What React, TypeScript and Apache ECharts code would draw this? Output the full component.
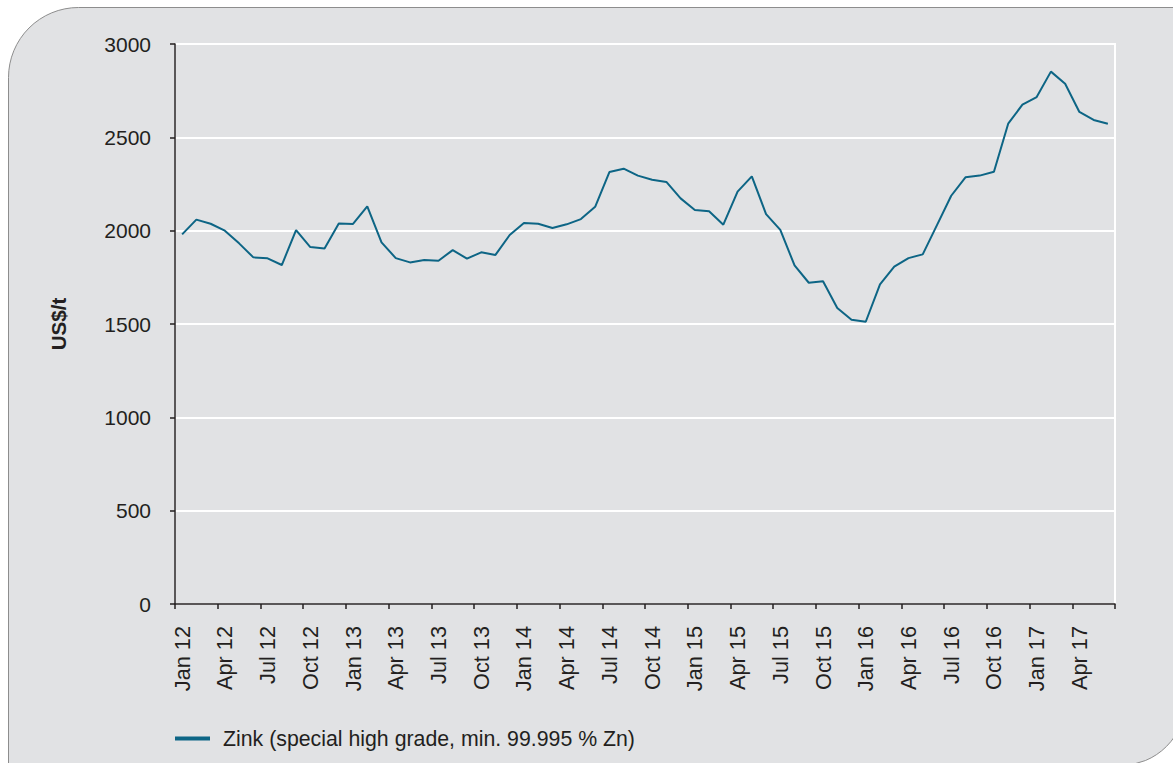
import React, { useEffect, useRef } from "react";
import * as echarts from "echarts";

const months = ["Jan", "Feb", "Mar", "Apr", "May", "Jun", "Jul", "Aug", "Sep", "Oct", "Nov", "Dec"];
const years = ["12", "13", "14", "15", "16", "17"];
const categories: string[] = [];
years.forEach((y) => months.forEach((m) => categories.push(m + " " + y)));
const cats = categories.slice(0, 66); // Jan 12 .. Jun 17

const zinc = [
  1980, 2059, 2037, 2000, 1932, 1857, 1852, 1816, 2003, 1912, 1905, 2039,
  2036, 2130, 1937, 1853, 1830, 1843, 1839, 1896, 1850, 1884, 1870, 1977,
  2041, 2037, 2014, 2034, 2062, 2128, 2314, 2332, 2295, 2273, 2261, 2173,
  2111, 2104, 2032, 2209, 2291, 2089, 2004, 1814, 1721, 1729, 1586, 1523,
  1512, 1712, 1807, 1853, 1873, 2030, 2187, 2286, 2295, 2316, 2573, 2675,
  2716, 2852, 2787, 2636, 2593, 2573,
];

const seriesName = "Zink (special high grade, min. 99.995 % Zn)";
const yAxisName = "US$/t";

const FONT = "'Liberation Sans', Arial, Helvetica, sans-serif";
const TEXT = "#231f20";
const LINE = "#0d6585";

export default function App() {
  const ref = useRef<HTMLDivElement>(null);
  useEffect(() => {
    if (!ref.current) return;
    const chart = echarts.init(ref.current, undefined, { renderer: "svg" });
    chart.setOption({
      animation: false,
      backgroundColor: "#ffffff",
      textStyle: { fontFamily: FONT, color: TEXT },
      graphic: [
        {
          type: "rect",
          z: -10,
          silent: true,
          shape: { x: 8.5, y: 7.5, width: 1177, height: 758, r: [70, 0, 65, 0] },
          style: { fill: "#e1e2e4", stroke: "#8d8d8d", lineWidth: 1 },
        },
      ],
      grid: {
        left: 175,
        right: 58,
        top: 44,
        bottom: 159,
        show: true,
        borderColor: "#ffffff",
        borderWidth: 2,
        backgroundColor: "transparent",
      },
      legend: {
        left: 175,
        top: 728,
        padding: 0,
        icon: "rect",
        itemWidth: 35,
        itemHeight: 4,
        itemGap: 10,
        textStyle: { fontFamily: FONT, fontSize: 21.3, color: TEXT, padding: [0, 0, 0, 8] },
        data: [seriesName],
      },
      xAxis: {
        type: "category",
        data: cats,
        boundaryGap: true,
        axisLine: { show: true, lineStyle: { color: TEXT, width: 1.5 } },
        axisTick: { show: true, interval: 2, length: 5, lineStyle: { color: TEXT, width: 1.5 } },
        axisLabel: {
          interval: 2,
          rotate: 90,
          margin: 22,
          fontFamily: FONT,
          fontSize: 21.7,
          color: TEXT,
        },
        splitLine: { show: false },
      },
      yAxis: {
        type: "value",
        min: 0,
        max: 3000,
        interval: 500,
        name: yAxisName,
        nameLocation: "middle",
        nameRotate: 90,
        nameGap: 106,
        nameTextStyle: { fontFamily: FONT, fontSize: 20.6, fontWeight: "bold", color: TEXT },
        axisLine: { show: true, lineStyle: { color: TEXT, width: 1.5 } },
        axisTick: { show: true, length: 5, lineStyle: { color: TEXT, width: 1.5 } },
        axisLabel: {
          margin: 24,
          fontFamily: FONT,
          fontSize: 21,
          color: TEXT,
          formatter: (v: number) => String(v),
        },
        splitLine: { show: true, lineStyle: { color: "#ffffff", width: 2 } },
      },
      series: [
        {
          name: seriesName,
          type: "line",
          data: zinc,
          symbol: "none",
          lineStyle: { color: LINE, width: 2 },
          itemStyle: { color: LINE },
        },
      ],
    });
    return () => chart.dispose();
  }, []);
  return (
    <div
      ref={ref}
      style={{ position: "fixed", left: 0, top: 0, width: 1173, height: 763 }}
    />
  );
}
